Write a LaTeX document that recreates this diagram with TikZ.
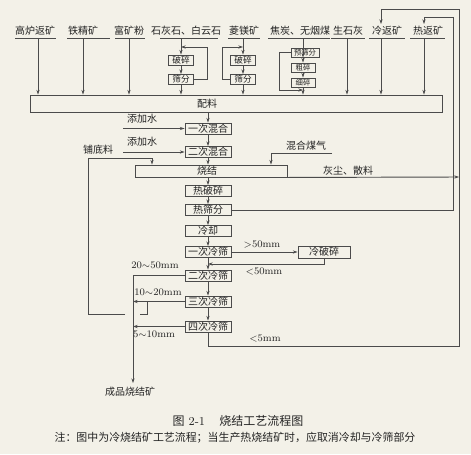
\documentclass[tikz,border=0pt]{standalone}
\usepackage{fontspec}
\newfontfamily\cjk{Noto Sans CJK SC}
\usetikzlibrary{arrows.meta}
\definecolor{bg}{RGB}{243,241,232}
\definecolor{lc}{RGB}{75,75,75}
\definecolor{tc}{RGB}{35,35,35}
\begin{document}
\begin{tikzpicture}[x=0.75pt,y=-0.75pt,
 ln/.style={draw=lc,line width=0.7pt},
 arr/.style={ln,-{Stealth[length=3.5pt,width=2.4pt]}},
 box/.style={draw=lc,line width=0.7pt,fill=bg,inner sep=0pt,minimum width=34.5pt,minimum height=8.25pt,font=\cjk\fontsize{7.5}{7.5}\selectfont,text=tc},
 sbox/.style={box,minimum width=18.75pt,minimum height=7.5pt,font=\cjk\fontsize{6.5}{6.5}\selectfont},
 tbox/.style={box,minimum width=18pt,minimum height=6.75pt,font=\cjk\fontsize{5.5}{5.5}\selectfont},
 lbl/.style={inner sep=0pt,text=tc,font=\cjk\fontsize{7.5}{7.5}\selectfont},
 num/.style={inner sep=0pt,text=tc,font=\fontsize{7.5}{7.5}\selectfont}]
\fill[bg] (0,0) rectangle (471,454);
\useasboundingbox (0,0) rectangle (471,454);

% top labels
\node[lbl] (t1) at (35,31) {高炉返矿};
\node[lbl] (t2) at (83,31) {铁精矿};
\node[lbl] (t3) at (129,31) {富矿粉};
\node[lbl] (t4) at (186,31) {石灰石、白云石};
\node[lbl] (t5) at (244,31) {菱镁矿};
\node[lbl] (t6) at (300,31) {焦炭、无烟煤};
\node[lbl] (t7) at (348,31) {生石灰};
\node[lbl] (t8) at (387,31) {冷返矿};
\node[lbl] (t9) at (428,31) {热返矿};
\draw[ln] (15,38) -- (56,38);
\draw[ln] (67,38) -- (110,38);
\draw[ln] (115,38) -- (145,38);
\draw[ln] (160,38) -- (218,38);
\draw[ln] (228,38) -- (260,38);
\draw[ln] (268,38) -- (330,38);
\draw[ln] (331,38) -- (365,38);
\draw[ln] (369,38) -- (405,38);
\draw[ln] (410,38) -- (445,38);

% batching box
\node[box,minimum width=309pt,minimum height=12.75pt] (pl) at (236,103.5) {};
\node[lbl] at (207,104) {配料};

% limestone branch
\node[sbox] (pa1) at (181,60) {破碎};
\node[sbox] (sa1) at (181,79.5) {筛分};
\node[sbox] (pa2) at (243,60) {破碎};
\node[sbox] (sa2) at (243,79.5) {筛分};
% coke branch
\node[tbox,minimum width=21pt] (ys) at (305,52.5) {预筛分};
\node[tbox] (cs) at (303,67.5) {粗碎};
\node[tbox] (xs) at (303,82.5) {细碎};

\coordinate (a1) at (38,38);
\coordinate (a2) at (83,38);
\coordinate (a3) at (129,38);
\coordinate (a4) at (181,38);
\coordinate (a5) at (243,38);
\coordinate (a6) at (303,38);
\coordinate (a7) at (347,38);
\coordinate (a8) at (381,38);
\coordinate (a9) at (424,38);
\draw[arr] (a1) -- (a1 |- pl.north);
\draw[arr] (a2) -- (a2 |- pl.north);
\draw[arr] (a3) -- (a3 |- pl.north);
\draw[arr] (a7) -- (a7 |- pl.north);
\draw[arr] (a8) -- (a8 |- pl.north);
\draw[arr] (a9) -- (a9 |- pl.north);

\draw[arr] (a4) -- (pa1.north);
\draw[arr] (pa1) -- (sa1);
\draw[arr] (sa1.south) -- (sa1.south |- pl.north);
\coordinate (j4) at (181,47);
\draw[arr] (sa1.east) -- ++(13.5,0) |- (j4);

\draw[arr] (a5) -- (pa2.north);
\draw[arr] (pa2) -- (sa2);
\draw[arr] (sa2.south) -- (sa2.south |- pl.north);
\coordinate (j5) at (243,47);
\draw[arr] (sa2.west) -- ++(-8,0) |- (j5);

\draw[arr] (a6) -- (a6 |- ys.south) ;
\draw[arr] (a6 |- ys.south) -- (cs.north);
\draw[arr] (cs) -- (xs);
\draw[arr] (xs.south) -- (xs.south |- pl.north);
\coordinate (j6) at (303,90);
\draw[arr] (ys.west) -- ++(-11,0) |- (j6);

% main chain
\node[box] (mix1) at (208,128.5) {一次混合};
\node[box] (mix2) at (208,152) {二次混合};
\node[box,minimum width=114pt,minimum height=9pt] (sj) at (211,171) {};
\node[lbl] at (207,171) {烧结};
\node[box] (rp) at (208,191) {热破碎};
\node[box] (rs) at (208,210) {热筛分};
\node[box] (lq) at (208,231) {冷却};
\node[box] (c1) at (208,252) {一次冷筛};
\node[box] (c2) at (208,275.5) {二次冷筛};
\node[box] (c3) at (208,301.5) {三次冷筛};
\node[box] (c4) at (208,326.5) {四次冷筛};
\node[box,minimum width=39pt,minimum height=9pt] (lp) at (324,252) {冷破碎};

\draw[arr] (pl.south -| mix1) -- (mix1.north);
\draw[arr] (mix1) -- (mix2);
\draw[arr] (mix2.south) -- (mix2.south |- sj.north);
\draw[arr] (sj.south -| rp) -- (rp.north);
\draw[arr] (rp) -- (rs);
\draw[arr] (rs) -- (lq);
\draw[arr] (lq) -- (c1);
\draw[arr] (c1) -- (c2);
\draw[arr] (c2) -- (c3);
\draw[arr] (c3) -- (c4);
\draw[arr] (c1) -- (lp);
\coordinate (j50) at (208,264);
\draw[arr] (lp.south) |- (j50);

% water
\coordinate (w1) at (123,128.5);
\coordinate (w2) at (123,152);
\draw[arr] (w1) -- (mix1.west);
\draw[arr] (w2) -- (mix2.west);
\node[lbl] at (142,119) {添加水};
\node[lbl] at (142,142) {添加水};

% gas
\node[lbl] at (306,146) {混合煤气};
\coordinate (g0) at (332,153);
\coordinate (g1) at (271,153);
\draw[arr] (g0) -- (g1) -- (g1 |- sj.north);

% dust
\coordinate (d1) at (459,177);
\draw[arr] (sj.south east) -- (d1);
\node[lbl] at (348,171) {灰尘、散料};

% hot return loop
\coordinate (h1) at (453,210);
\coordinate (h2) at (453,17);
\coordinate (h3) at (424,17);
\coordinate (h4) at (424,24);
\draw[arr] (rs.east) -- (h1) -- (h2) -- (h3) -- (h4);

% cold return loop
\coordinate (o1) at (208,346);
\coordinate (o2) at (459,346);
\coordinate (o3) at (459,9);
\coordinate (o4) at (381,9);
\coordinate (o5) at (381,24);
\draw[arr] (c4.south) -- (o1) -- (o2) -- (o3) -- (o4) -- (o5);

% products
\coordinate (q1) at (133,275.5);
\coordinate (q2) at (133,383);
\coordinate (q3) at (133,301.5);
\coordinate (q4) at (133,326.5);
\draw[arr] (c2.west) -- (q1) -- (q2);
\draw[arr] (c3.west) -- (q3);
\draw[arr] (c4.west) -- (q4);

% bedding
\coordinate (b1) at (147,301.5);
\coordinate (b2) at (147,314);
\coordinate (b3) at (140,314);
\coordinate (b4) at (125,314);
\coordinate (b5) at (88,314);
\coordinate (b6) at (88,158);
\coordinate (b7) at (152,158);
\draw[ln] (b1) -- (b2) -- (b3);
\draw[arr] (b4) -- (b5) -- (b6) -- (b7) -- (b7 |- sj.north);
\node[lbl] at (98,150) {铺底料};

% size labels
\node[num] at (262,245) {$>$50mm};
\node[num] at (264,272) {$<$50mm};
\node[num] at (265,339) {$<$5mm};
\node[num] at (155,265) {20$\sim$50mm};
\node[num] at (158,292) {10$\sim$20mm};
\node[num] at (154,334) {5$\sim$10mm};

\node[lbl] at (130,392) {成品烧结矿};

\node[inner sep=0pt,text=tc] at (238,421) {\fontsize{9}{9}\selectfont{\cjk 图} 2-1\hspace{1.2em}{\cjk 烧结工艺流程图}};
\node[inner sep=0pt,text=tc] at (235,438) {\cjk\fontsize{8.2}{8.2}\selectfont 注：图中为冷烧结矿工艺流程；当生产热烧结矿时，应取消冷却与冷筛部分};
\end{tikzpicture}
\end{document}
